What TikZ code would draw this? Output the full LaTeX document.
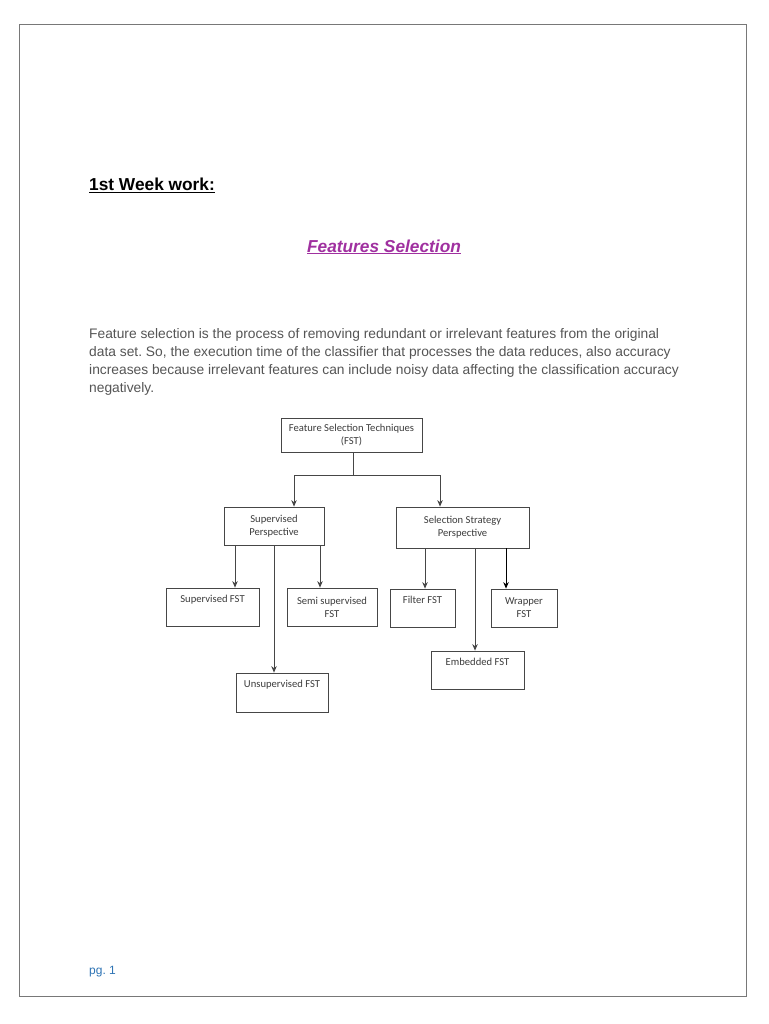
\documentclass[tikz,border=0pt]{standalone}
\usepackage{fontspec}
\setmainfont{Liberation Sans}
\newfontfamily\boxfont{Carlito}
\usetikzlibrary{arrows.meta}
\frenchspacing
\definecolor{pagegray}{RGB}{120,120,120}
\definecolor{linegray}{RGB}{70,70,70}
\definecolor{txtgray}{RGB}{85,85,85}
\definecolor{boxtxt}{RGB}{60,60,60}
\definecolor{titlepurple}{RGB}{160,48,160}
\definecolor{pgblue}{RGB}{46,116,181}
\tikzset{
  fsbox/.style={draw=linegray, line width=0.8pt, rectangle, inner sep=0pt, align=center,
    font=\boxfont\fontsize{10.6}{13}\selectfont, text=boxtxt},
  arr/.style={draw=linegray, line width=0.8pt, -{Stealth[length=6.5pt,width=5.5pt]}},
  ln/.style={draw=linegray, line width=0.8pt},
  para/.style={anchor=base west, inner sep=0pt, text=txtgray, font=\fontsize{13.8}{18}\selectfont},
}
\begin{document}
\begin{tikzpicture}[x=1pt,y=-1pt]
\useasboundingbox (0,0) rectangle (768,1024);
\fill[white] (0,0) rectangle (768,1024);
\draw[pagegray, line width=1pt] (19,25) rectangle (746,996);

% headings
\node[anchor=base west, inner sep=0pt, font=\bfseries\fontsize{17.3}{20}\selectfont] (week) at (89,191) {\underline{1st Week work:}};
\node[anchor=base, inner sep=0pt, text=titlepurple, font=\bfseries\itshape\fontsize{17.3}{20}\selectfont] (title) at (384,252) {\underline{Features Selection}};

% paragraph
\node[para] (p1) at (89,338) {Feature selection is the process of removing redundant or irrelevant features from the original};
\node[para] (p2) at (89,356) {data set. So, the execution time of the classifier that processes the data reduces, also accuracy};
\node[para] (p3) at (89,374) {increases because irrelevant features can include noisy data affecting the classification accuracy};
\node[para] (p4) at (89,392) {negatively.};

% boxes
\node[fsbox, minimum width=141pt, minimum height=34pt] (top) at (351.5,435) {Feature Selection Techniques\\(FST)};
\node[fsbox, minimum width=100pt, minimum height=38pt] (sup) at (274,526) {Supervised\\Perspective};
\node[fsbox, minimum width=133pt, minimum height=41pt] (sel) at (462.5,527.5) {Selection Strategy\\Perspective};
\node[fsbox, minimum width=93pt, minimum height=38pt] (supfst) at (212.5,607) {Supervised FST\\\strut};
\node[fsbox, minimum width=90pt, minimum height=38pt] (semi) at (332,607) {Semi supervised\\FST};
\node[fsbox, minimum width=92pt, minimum height=39pt] (unsup) at (282,692.5) {Unsupervised FST\\\strut};
\node[fsbox, minimum width=65pt, minimum height=38pt] (filter) at (422.5,608) {Filter FST\\\strut};
\node[fsbox, minimum width=66pt, minimum height=38pt] (wrapper) at (524,608) {Wrapper\\FST};
\node[fsbox, minimum width=93pt, minimum height=38pt] (embed) at (477.5,670) {Embedded FST\\\strut};

% connectors
\coordinate (jl) at (294,475);
\coordinate (jr) at (440,475);
\draw[ln] ([xshift=1.5pt]top.south) -- ([xshift=1.5pt]top.south |- jl);
\draw[ln] (jl) -- (jr);
\draw[arr] (jl) -- (jl |- sup.north);
\draw[arr] (jr) -- (jr |- sel.north);

\draw[arr] ([xshift=-39pt]sup.south) -- ([xshift=-39pt]sup.south |- supfst.north);
\draw[arr] ([xshift=46pt]sup.south) -- ([xshift=46pt]sup.south |- semi.north);
\draw[arr] (sup.south) -- (sup.south |- unsup.north);

\draw[arr] ([xshift=-37.5pt]sel.south) -- ([xshift=-37.5pt]sel.south |- filter.north);
\draw[arr] ([xshift=12.5pt]sel.south) -- ([xshift=12.5pt]sel.south |- embed.north);
\draw[arr, draw=black] ([xshift=43.5pt]sel.south) -- ([xshift=43.5pt]sel.south |- wrapper.north);

% footer
\node[anchor=base west, inner sep=0pt, text=pgblue, font=\fontsize{12}{14}\selectfont] (pg) at (89,974) {pg. 1};
\end{tikzpicture}
\end{document}
